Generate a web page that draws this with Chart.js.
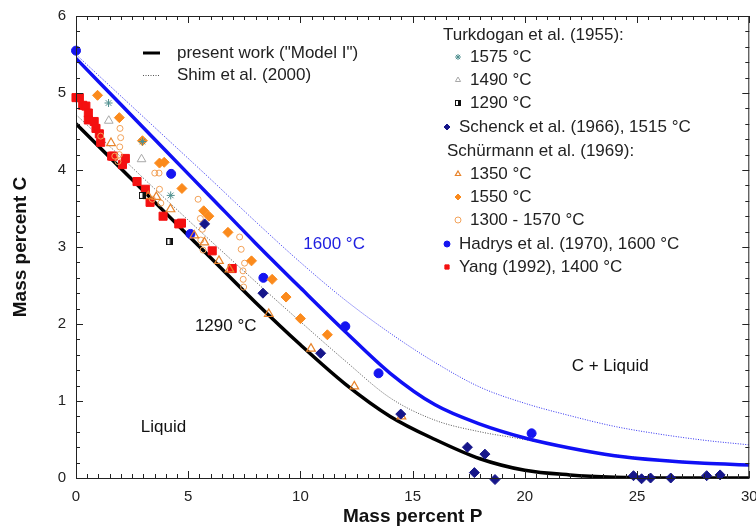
<!DOCTYPE html>
<html>
<head>
<meta charset="utf-8">
<script src="https://cdn.jsdelivr.net/npm/chart.js@4.4.1/dist/chart.umd.min.js"></script>
<style>
  html, body { margin: 0; padding: 0; background: #fff; }
</style>
</head>
<body>
<canvas id="chart" width="756" height="528"></canvas>
<script>
const FONT = "'Liberation Sans', Arial, sans-serif";
Chart.defaults.font.family = FONT;

// calculated curves at every 2 mass% P
const curveP = [0, 2, 4, 6, 8, 10, 12, 14, 16, 18, 20, 22, 24, 26, 28, 30];
const model1290C = [4.60, 4.02, 3.44, 2.86, 2.28, 1.73, 1.22, 0.80, 0.50, 0.25, 0.10, 0.04, 0.01, 0.0, 0.0, 0.0];
const model1600C = [5.45, 4.85, 4.25, 3.65, 3.05, 2.47, 1.90, 1.36, 0.95, 0.70, 0.52, 0.39, 0.29, 0.23, 0.19, 0.17];
const shim1290C = [4.72, 4.17, 3.62, 3.08, 2.55, 2.03, 1.52, 1.04, 0.75, 0.60, 0.50, 0.39, 0.30, 0.24, 0.20, 0.17];
const shim1600C = [5.50, 4.96, 4.42, 3.88, 3.33, 2.80, 2.31, 1.88, 1.50, 1.18, 0.97, 0.81, 0.67, 0.57, 0.49, 0.43];

// experimental points [mass% P, mass% C]
const turk1575 = [[1.45, 4.87], [2.96, 4.37], [4.22, 3.67]];
const turk1490 = [[1.46, 4.64], [2.92, 4.14]];
const turk1290 = [[2.96, 3.67], [4.18, 3.07]];
const schenck1515 = [[5.73, 3.30], [8.33, 2.40], [10.9, 1.62], [14.47, 0.83], [17.44, 0.40], [18.22, 0.31],
  [17.75, 0.07], [18.67, -0.02], [24.84, 0.03], [25.2, -0.01], [25.6, 0.0], [26.5, 0.0], [28.1, 0.03], [28.7, 0.04]];
const schur1350 = [[1.56, 4.35], [3.22, 3.66], [3.58, 3.65], [4.21, 3.49], [5.27, 3.15], [5.72, 3.06], [6.37, 2.82],
  [6.84, 2.71], [8.59, 2.13], [10.47, 1.68], [12.4, 1.19], [14.5, 0.80]];
const schur1550 = [[0.96, 4.97], [1.93, 4.68], [2.96, 4.38], [3.72, 4.09], [3.93, 4.10], [4.72, 3.76], [5.69, 3.47],
  [5.92, 3.40], [6.77, 3.19], [7.82, 2.82], [8.74, 2.58], [9.36, 2.35], [10.0, 2.07], [11.2, 1.86]];
const schur1300 = [[1.10, 4.44], [1.96, 4.54], [1.99, 4.42], [1.95, 4.30], [1.93, 4.20], [1.73, 4.18], [1.87, 4.11],
  [3.51, 3.96], [3.70, 3.96], [3.72, 3.75], [3.40, 3.62], [3.78, 3.57], [5.44, 3.62], [5.54, 3.37], [5.63, 3.23],
  [5.56, 3.09], [5.66, 2.96], [7.29, 3.13], [7.36, 2.97], [7.51, 2.79], [7.44, 2.69], [7.45, 2.58], [7.47, 2.48]];
const hadrys1600 = [[0, 5.55], [4.24, 3.95], [5.1, 3.17], [8.35, 2.60], [12.0, 1.97], [13.48, 1.36], [20.3, 0.58]];
const yang1400 = [[0, 4.94], [0.15, 4.94], [0.3, 4.84], [0.44, 4.83], [0.55, 4.74], [0.55, 4.65], [0.81, 4.63],
  [0.89, 4.54], [1.04, 4.47], [1.1, 4.36], [1.59, 4.18], [1.66, 4.18], [2.07, 4.07], [2.2, 4.15], [2.72, 3.85],
  [3.09, 3.75], [3.3, 3.58], [3.88, 3.40], [4.58, 3.30], [4.7, 3.31], [6.07, 2.95], [6.96, 2.72]];

const xTicks = [0, 5, 10, 15, 20, 25, 30];
const yTicks = [0, 1, 2, 3, 4, 5, 6];

const pairs = a => a.map(([x, y]) => ({x, y}));
const curve = c => curveP.map((p, i) => ({x: p, y: c[i]}));

// half filled square for Turkdogan 1290 °C
function halfSquare(s) {
  const c = document.createElement('canvas');
  c.width = s; c.height = s;
  const g = c.getContext('2d');
  g.fillStyle = '#fff'; g.fillRect(0, 0, s, s);
  g.fillStyle = '#111'; g.fillRect(s / 2, 0, s / 2, s);
  g.strokeStyle = '#111'; g.lineWidth = 1; g.strokeRect(0.5, 0.5, s - 1, s - 1);
  return c;
}
const halfSq = halfSquare(7);
const halfSqSmall = halfSquare(6);

const marker = (label, data, style, color, extra) => Object.assign({
  label, data: pairs(data), showLine: false, clip: false,
  pointStyle: style, pointRadius: 4.5, pointHoverRadius: 4.5,
  pointBackgroundColor: color, pointBorderColor: color, pointBorderWidth: 1
}, extra);

const line = (label, data, color, width, dash) => ({
  label, data: curve(data), showLine: true, pointRadius: 0, pointHoverRadius: 0,
  borderColor: color, borderWidth: width, borderDash: dash, cubicInterpolationMode: 'monotone', fill: false
});

const datasets = [
  marker('1575 °C', turk1575, 'star', '#4f8f8f', {pointRadius: 4}),
  marker('1490 °C', turk1490, 'triangle', '#a8a8a8', {pointBackgroundColor: 'rgba(0,0,0,0)', pointRadius: 5}),
  marker('1290 °C', turk1290, halfSq, '#111'),
  marker('Schenck et al. (1966), 1515 °C', schenck1515, 'rectRot', '#16168a', {pointRadius: 5}),
  marker('1350 °C', schur1350, 'triangle', '#e8832a', {pointBackgroundColor: 'rgba(0,0,0,0)', pointRadius: 5, pointBorderWidth: 1.2}),
  marker('1550 °C', schur1550, 'rectRot', '#fb8a1c', {pointRadius: 5}),
  marker('1300 - 1570 °C', schur1300, 'circle', '#f2a25a', {pointBackgroundColor: 'rgba(0,0,0,0)', pointRadius: 3}),
  marker('Hadrys et al. (1970), 1600 °C', hadrys1600, 'circle', '#1515f0', {pointRadius: 4.5}),
  marker('Yang (1992), 1400 °C', yang1400, 'rect', '#f41010', {pointRadius: 5.7}),
  line('present work ("Model I")', model1290C, '#000', 3.5, []),
  line('present work 1600 °C', model1600C, '#1010f5', 3.5, []),
  line('Shim et al. (2000)', shim1290C, '#555', 1, [1, 1.5]),
  line('Shim et al. (2000) 1600 °C', shim1600C, '#3030f0', 1, [1, 1.5])
];

const regionLabels = [
  ['1600 °C', 11.5, 3.03, '#2020e0'],
  ['1290 °C', 6.67, 1.97, '#111'],
  ['C + Liquid', 23.8, 1.45, '#111'],
  ['Liquid', 3.9, 0.66, '#111']
];

function drawMark(ctx, ds, radius, x, y) {
  ctx.save();
  ctx.fillStyle = ds.pointBackgroundColor;
  ctx.strokeStyle = ds.pointBorderColor;
  ctx.lineWidth = ds.pointBorderWidth;
  const style = ds.pointStyle === halfSq ? halfSqSmall : ds.pointStyle;
  Chart.helpers.drawPoint(ctx, {pointStyle: style, rotation: 0, radius, borderWidth: ds.pointBorderWidth}, x, y);
  ctx.restore();
}

const framePlugin = {
  id: 'frame',
  afterDraw(chart) {
    const {ctx, chartArea: a, scales: {x, y}} = chart;
    ctx.save();
    ctx.strokeStyle = '#222';
    ctx.lineWidth = 1;
    ctx.strokeRect(a.left + 0.5, a.top + 0.5, a.right - a.left - 1, a.bottom - a.top);
    ctx.beginPath();
    for (let i = 0; i <= 60; i++) {
      const v = i / 2;
      const px = Math.round(x.getPixelForValue(v)) + 0.5;
      const len = i % 10 === 0 ? 7 : 4;
      ctx.moveTo(px, a.bottom); ctx.lineTo(px, a.bottom - len);
      ctx.moveTo(px, a.top); ctx.lineTo(px, a.top + len);
    }
    for (let i = 0; i <= 30; i++) {
      const v = i / 5;
      const py = Math.round(y.getPixelForValue(v)) + 0.5;
      const len = i % 5 === 0 ? 7 : 4;
      ctx.moveTo(a.left, py); ctx.lineTo(a.left + len, py);
      ctx.moveTo(a.right, py); ctx.lineTo(a.right - len, py);
    }
    ctx.stroke();

    // region labels
    ctx.font = '17px ' + FONT;
    ctx.textAlign = 'center';
    ctx.textBaseline = 'middle';
    regionLabels.forEach(([t, p, c, col]) => {
      ctx.fillStyle = col;
      ctx.fillText(t, x.getPixelForValue(p), y.getPixelForValue(c));
    });

    // legend, left block (lines)
    const ds = chart.data.datasets;
    ctx.textAlign = 'left';
    ctx.fillStyle = '#222';
    ctx.strokeStyle = '#000';
    ctx.lineWidth = 3;
    ctx.beginPath(); ctx.moveTo(143, 53); ctx.lineTo(160, 53); ctx.stroke();
    ctx.strokeStyle = '#555';
    ctx.lineWidth = 1;
    ctx.setLineDash([1, 1.5]);
    ctx.beginPath(); ctx.moveTo(143, 75.5); ctx.lineTo(160, 75.5); ctx.stroke();
    ctx.setLineDash([]);
    ctx.fillText(ds[9].label, 177, 53);
    ctx.fillText(ds[11].label, 177, 75);

    // legend, right block (experiments)
    const rows = [
      [null, 'Turkdogan et al. (1955):', 443, 35],
      [0, null, 470, 57],
      [1, null, 470, 80],
      [2, null, 470, 103],
      [3, null, 459, 127],
      [null, 'Schürmann et al. (1969):', 447, 151],
      [4, null, 470, 174],
      [5, null, 470, 197],
      [6, null, 470, 220],
      [7, null, 459, 244],
      [8, null, 459, 267]
    ];
    rows.forEach(([i, text, tx, ty]) => {
      if (i !== null) {
        drawMark(ctx, ds[i], 3, tx - 12, ty);
        text = ds[i].label;
      }
      ctx.fillStyle = '#222';
      ctx.fillText(text, tx, ty);
    });
    ctx.restore();
  }
};

new Chart(document.getElementById('chart'), {
  type: 'scatter',
  data: {datasets},
  options: {
    responsive: false,
    animation: false,
    layout: {padding: {top: 16, right: 5, left: 0, bottom: 0}},
    plugins: {legend: {display: false}, tooltip: {enabled: false}},
    scales: {
      x: {
        type: 'linear', min: 0, max: 30,
        afterBuildTicks: s => { s.ticks = xTicks.map(v => ({value: v})); },
        ticks: {color: '#222', font: {size: 15}, padding: 10, maxRotation: 0},
        grid: {display: false, drawTicks: false},
        border: {display: false},
        title: {display: true, text: 'Mass percent P', color: '#111', font: {size: 19, weight: 'bold'}, padding: 0},
        afterFit: s => { s.height = 50; s.paddingLeft = 0; s.paddingRight = 0; }
      },
      y: {
        type: 'linear', min: 0, max: 6,
        afterBuildTicks: s => { s.ticks = yTicks.map(v => ({value: v})); },
        ticks: {color: '#222', font: {size: 15}, padding: 10},
        grid: {display: false, drawTicks: false},
        border: {display: false},
        title: {display: true, text: 'Mass percent C', color: '#111', font: {size: 19, weight: 'bold'}, padding: {top: 9, bottom: 0}},
        afterFit: s => { s.width = 76; s.paddingTop = 0; s.paddingBottom = 0; }
      }
    }
  },
  plugins: [framePlugin]
});
</script>
</body>
</html>
